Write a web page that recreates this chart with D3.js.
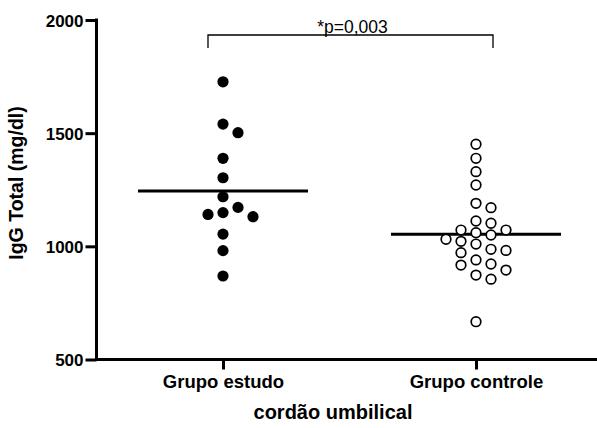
<!DOCTYPE html>
<html>
<head>
<meta charset="utf-8">
<script src="https://cdn.jsdelivr.net/npm/d3@7"></script>
<style>
  html, body { margin: 0; padding: 0; background: #fff; }
  svg { display: block; }
  text { font-family: "Liberation Sans", Arial, sans-serif; fill: #000; }
</style>
</head>
<body>
<svg id="chart" width="597" height="428"></svg>
<script>
// ---- data ----
const categories = ["Grupo estudo", "Grupo controle"];
const estudo = [1727, 1540, 1502, 1389, 1303, 1219, 1172, 1149, 1141, 1131, 1054, 981, 869];
const controle = [1451, 1389, 1330, 1271, 1190, 1171, 1112, 1102, 1072, 1072, 1060, 1050, 1031,
                  1022, 1010, 987, 982, 972, 940, 922, 917, 895, 873, 855, 667];
const yTicks = [500, 1000, 1500, 2000];
const yLabel = "IgG Total (mg/dl)";
const xTitle = "cordão umbilical";
const pText = "*p=0,003";

// ---- layout ----
const svg = d3.select("#chart");
const axisX = 96.5, topY = 20, bottomY = 359.5;

const x = d3.scalePoint().domain(categories).range([axisX, 602.5]).padding(0.5);
const y = d3.scaleLinear().domain([500, 2000]).range([bottomY, topY]);

// axes
const yAxis = d3.axisLeft(y).tickValues(yTicks).tickSize(11).tickPadding(2).tickFormat(d3.format("d"));
const gy = svg.append("g").attr("transform", `translate(${axisX},0)`).call(yAxis);
gy.select(".domain").attr("d", `M0,${topY}V${bottomY}`).attr("stroke", "#000").attr("stroke-width", 3).attr("stroke-linecap", "square");
gy.selectAll(".tick line").attr("stroke", "#000").attr("stroke-width", 3);
gy.selectAll(".tick text").attr("font-size", 17).attr("font-weight", "bold").attr("dy", "0.36em");

const xAxis = d3.axisBottom(x).tickSize(10).tickPadding(4);
const gx = svg.append("g").attr("transform", `translate(0,${bottomY})`).call(xAxis);
gx.select(".domain").attr("d", `M${axisX},0H600`).attr("stroke", "#000").attr("stroke-width", 3);
gx.selectAll(".tick line").attr("stroke", "#000").attr("stroke-width", 3);
gx.selectAll(".tick text").attr("font-size", 18.5).attr("font-weight", "bold").attr("y", 28.5).attr("dy", 0);

// axis titles
svg.append("text")
  .attr("transform", `translate(23,${183}) rotate(-90)`)
  .attr("text-anchor", "middle")
  .attr("font-size", 19.5).attr("font-weight", "bold")
  .text(yLabel);
svg.append("text")
  .attr("x", 333).attr("y", 419)
  .attr("text-anchor", "middle")
  .attr("font-size", 20).attr("font-weight", "bold")
  .text(xTitle);

// ---- beeswarm layout (greedy) ----
const colStep = 15, minGap = 11;
function swarm(values) {
  const placed = [];
  const order = [0, 1, -1, 2, -2, 3, -3, 4, -4];
  values.forEach(v => {
    const py = y(v);
    for (const c of order) {
      if (!placed.some(p => p.col === c && Math.abs(p.py - py) < minGap)) {
        placed.push({ v, py, col: c });
        break;
      }
    }
  });
  return placed;
}

const groups = [
  { cat: categories[0], values: estudo, filled: true },
  { cat: categories[1], values: controle, filled: false }
];

groups.forEach(g => {
  const cx = x(g.cat);
  const m = d3.mean(g.values);
  svg.append("line")
    .attr("x1", cx - 85).attr("x2", cx + 85)
    .attr("y1", y(m)).attr("y2", y(m))
    .attr("stroke", "#000").attr("stroke-width", 3);
  svg.append("g").selectAll("circle")
    .data(swarm(g.values))
    .join("circle")
    .attr("cx", d => cx + d.col * colStep)
    .attr("cy", d => d.py)
    .attr("r", g.filled ? 5.6 : 4.8)
    .attr("fill", g.filled ? "#000" : "#fff")
    .attr("stroke", "#000")
    .attr("stroke-width", g.filled ? 0 : 1.7);
});

// ---- significance bracket ----
const bx1 = x(categories[0]) - 15, bx2 = x(categories[1]) + 17;
const bTop = 35, bBot = 48;
svg.append("path")
  .attr("d", `M${bx1},${bBot}V${bTop}H${bx2}V${bBot}`)
  .attr("fill", "none").attr("stroke", "#000").attr("stroke-width", 1.3);
svg.append("text")
  .attr("x", (bx1 + bx2) / 2 + 2).attr("y", 33)
  .attr("text-anchor", "middle")
  .attr("font-size", 17.5)
  .text(pText);
</script>
</body>
</html>
